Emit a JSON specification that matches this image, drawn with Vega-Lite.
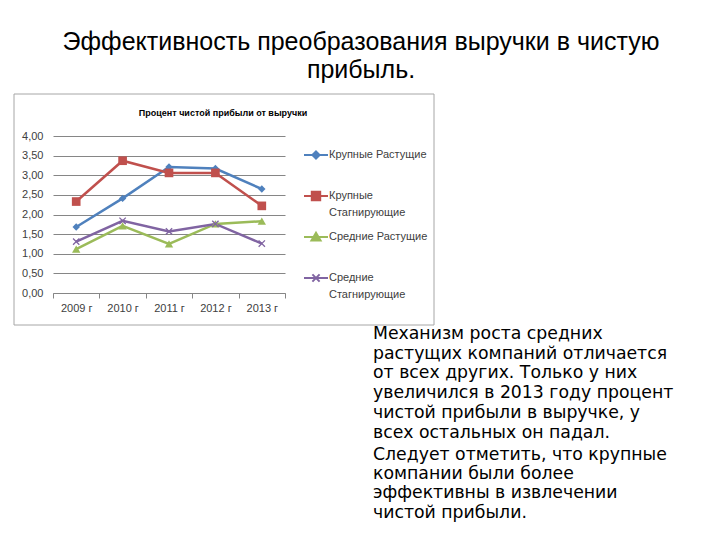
{
  "$schema": "https://vega.github.io/schema/vega-lite/v6.json",
  "width": 232,
  "height": 157,
  "autosize": "none",
  "padding": {"left": 53, "top": 136, "right": 435, "bottom": 247},
  "background": "white",
  "config": {"view": {"stroke": null}, "font": "Liberation Sans"},
  "title": {
    "text": ["Эффективность преобразования выручки в чистую", "прибыль."],
    "anchor": "middle",
    "frame": "group",
    "dx": 192,
    "offset": 11,
    "fontSize": 25,
    "fontWeight": "normal",
    "lineHeight": 28,
    "color": "#000000",
    "font": "Liberation Sans"
  },
  "datasets": {
    "series": [
      {"year": "2009 г", "series": "Крупные Растущие", "value": 1.68},
      {"year": "2010 г", "series": "Крупные Растущие", "value": 2.41},
      {"year": "2011 г", "series": "Крупные Растущие", "value": 3.21},
      {"year": "2012 г", "series": "Крупные Растущие", "value": 3.17},
      {"year": "2013 г", "series": "Крупные Растущие", "value": 2.65},
      {"year": "2009 г", "series": "Крупные Стагнирующие", "value": 2.33},
      {"year": "2010 г", "series": "Крупные Стагнирующие", "value": 3.37},
      {"year": "2011 г", "series": "Крупные Стагнирующие", "value": 3.06},
      {"year": "2012 г", "series": "Крупные Стагнирующие", "value": 3.06},
      {"year": "2013 г", "series": "Крупные Стагнирующие", "value": 2.22},
      {"year": "2009 г", "series": "Средние Растущие", "value": 1.12},
      {"year": "2010 г", "series": "Средние Растущие", "value": 1.71},
      {"year": "2011 г", "series": "Средние Растущие", "value": 1.25},
      {"year": "2012 г", "series": "Средние Растущие", "value": 1.76},
      {"year": "2013 г", "series": "Средние Растущие", "value": 1.83},
      {"year": "2009 г", "series": "Средние Стагнирующие", "value": 1.31},
      {"year": "2010 г", "series": "Средние Стагнирующие", "value": 1.84},
      {"year": "2011 г", "series": "Средние Стагнирующие", "value": 1.57},
      {"year": "2012 г", "series": "Средние Стагнирующие", "value": 1.76},
      {"year": "2013 г", "series": "Средние Стагнирующие", "value": 1.26}
    ]
  },
  "layer": [
    {
      "data": {"values": [{}]},
      "mark": {"type": "rect", "fill": null, "stroke": "#a6a6a6", "strokeWidth": 1},
      "encoding": {
        "x": {"value": -39},
        "x2": {"value": 381},
        "y": {"value": -42},
        "y2": {"value": 189}
      }
    },
    {
      "data": {"values": [{"t": "Процент чистой прибыли от выручки"}]},
      "mark": {"type": "text", "fontSize": 9, "fontWeight": "bold", "color": "#000000", "align": "center", "baseline": "middle"},
      "encoding": {"text": {"field": "t"}, "x": {"value": 170}, "y": {"value": -23}}
    },
    {
      "data": {"values": [{"t": ["Механизм роста средних", "растущих компаний отличается", "от всех других. Только у них", "увеличился в 2013 году процент", "чистой прибыли в выручке, у", "всех остальных он падал."]}]},
      "mark": {"type": "text", "font": "DejaVu Sans", "fontSize": 17.3, "lineHeight": 19.7, "color": "#000000", "align": "left", "baseline": "middle"},
      "encoding": {"text": {"field": "t"}, "x": {"value": 320}, "y": {"value": 198}}
    },
    {
      "data": {"values": [{"t": ["Следует отметить, что крупные", "компании были более", "эффективны в извлечении", "чистой прибыли."]}]},
      "mark": {"type": "text", "font": "DejaVu Sans", "fontSize": 17.3, "lineHeight": 19.2, "color": "#000000", "align": "left", "baseline": "middle"},
      "encoding": {"text": {"field": "t"}, "x": {"value": 320}, "y": {"value": 319}}
    },
    {
      "data": {"name": "series"},
      "mark": {"type": "line", "strokeWidth": 2.5},
      "encoding": {
        "x": {
          "field": "year", "type": "ordinal",
          "scale": {"type": "band", "paddingInner": 0, "paddingOuter": 0},
          "axis": {
            "title": null, "labelAngle": 0, "domainColor": "#868686", "tickColor": "#868686",
            "tickBand": "extent", "tickSize": 5, "labelFontSize": 11, "labelColor": "#404040",
            "labelPadding": 4, "grid": false
          }
        },
        "y": {
          "field": "value", "type": "quantitative",
          "scale": {"domain": [0, 4], "nice": false},
          "axis": {
            "title": null, "values": [0, 0.5, 1, 1.5, 2, 2.5, 3, 3.5, 4], "tickCount": 20,
            "labelExpr": "replace(format(datum.value, '.2f'), '.', ',')", "labelOverlap": false,
            "domain": false, "ticks": false, "gridColor": "#868686", "gridWidth": 1,
            "labelFontSize": 11, "labelColor": "#404040", "labelPadding": 10
          }
        },
        "color": {
          "field": "series", "type": "nominal",
          "scale": {
            "domain": ["Крупные Растущие", "Крупные Стагнирующие", "Средние Растущие", "Средние Стагнирующие"],
            "range": ["#4f81bd", "#c0504d", "#9bbb59", "#8064a2"]
          },
          "legend": {
            "title": null, "orient": "none", "legendX": 250, "legendY": 6,
            "labelFontSize": 11, "labelColor": "#404040", "labelOffset": 0,
            "symbolSize": 576, "rowPadding": 6,
            "labelExpr": "datum.label == 'Крупные Стагнирующие' || datum.label == 'Средние Стагнирующие' ? split(datum.label, ' ') : [datum.label, ' ']",
            "labelBaseline": "top",
            "encode": {
              "labels": {"update": {"dy": {"value": -6}, "lineHeight": {"value": 17}}},
              "symbols": {"update": {
                "shape": {"signal": "datum.value == 'Крупные Растущие' ? 'M-1,0H1M0,-0.3L0.3,0L0,0.3L-0.3,0Z' : datum.value == 'Крупные Стагнирующие' ? 'M-1,0H1M-0.35,-0.35H0.35V0.35H-0.35Z' : datum.value == 'Средние Растущие' ? 'M-1,0H1M0,-0.35L0.38,0.3H-0.38Z' : 'M-1,0H1M-0.3,-0.3L0.3,0.3M-0.3,0.3L0.3,-0.3'"},
                "fill": {"scale": "color", "field": "value"},
                "stroke": {"scale": "color", "field": "value"},
                "strokeWidth": {"value": 2},
                "opacity": {"value": 1}
              }}
            }
          }
        }
      }
    },
    {
      "data": {"name": "series"},
      "transform": [{"filter": "datum.series == 'Крупные Растущие'"}],
      "mark": {"type": "point", "shape": "diamond", "filled": true, "size": 55, "opacity": 1},
      "encoding": {
        "x": {"field": "year", "type": "ordinal"},
        "y": {"field": "value", "type": "quantitative"},
        "color": {"field": "series", "type": "nominal", "legend": null}
      }
    },
    {
      "data": {"name": "series"},
      "transform": [{"filter": "datum.series == 'Крупные Стагнирующие'"}],
      "mark": {"type": "point", "shape": "square", "filled": true, "size": 75, "opacity": 1},
      "encoding": {
        "x": {"field": "year", "type": "ordinal"},
        "y": {"field": "value", "type": "quantitative"},
        "color": {"field": "series", "type": "nominal", "legend": null}
      }
    },
    {
      "data": {"name": "series"},
      "transform": [{"filter": "datum.series == 'Средние Растущие'"}],
      "mark": {"type": "point", "shape": "triangle-up", "filled": true, "size": 70, "opacity": 1},
      "encoding": {
        "x": {"field": "year", "type": "ordinal"},
        "y": {"field": "value", "type": "quantitative"},
        "color": {"field": "series", "type": "nominal", "legend": null}
      }
    },
    {
      "data": {"name": "series"},
      "transform": [{"filter": "datum.series == 'Средние Стагнирующие'"}],
      "mark": {"type": "point", "shape": "M-1,-1L1,1M-1,1L1,-1", "filled": false, "size": 40, "strokeWidth": 1.3, "opacity": 1},
      "encoding": {
        "x": {"field": "year", "type": "ordinal"},
        "y": {"field": "value", "type": "quantitative"},
        "color": {"field": "series", "type": "nominal", "legend": null}
      }
    }
  ]
}
